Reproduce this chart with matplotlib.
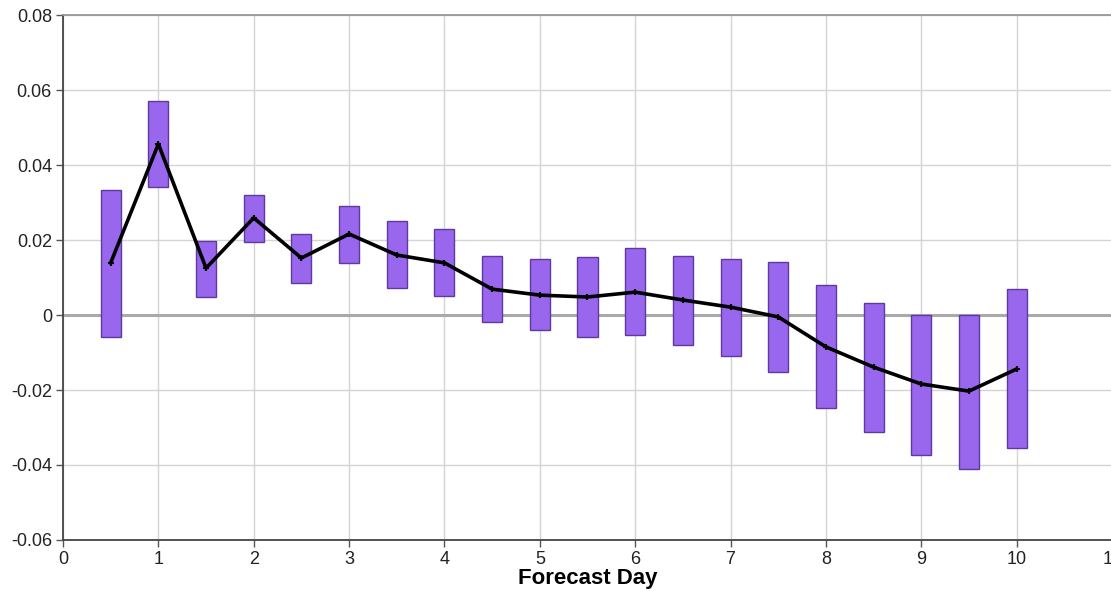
import numpy as np
import matplotlib
matplotlib.use("Agg")
import matplotlib.pyplot as plt

# forecast days (half-day steps)
days = [0.5, 1.0, 1.5, 2.0, 2.5, 3.0, 3.5, 4.0, 4.5, 5.0,
        5.5, 6.0, 6.5, 7.0, 7.5, 8.0, 8.5, 9.0, 9.5, 10.0]

# mean score difference
mean_vals = [0.0139, 0.0456, 0.0125, 0.0259, 0.0152, 0.0216, 0.0160, 0.0139, 0.0069, 0.0053,
             0.0048, 0.0061, 0.0040, 0.0021, -0.0005, -0.0085, -0.0139, -0.0184, -0.0203, -0.0144]

# confidence interval bounds
upper_vals = [0.0333, 0.0570, 0.0197, 0.0320, 0.0216, 0.0290, 0.0250, 0.0229, 0.0157, 0.0149,
              0.0155, 0.0179, 0.0157, 0.0149, 0.0141, 0.0080, 0.0032, 0.0000, 0.0000, 0.0069]
lower_vals = [-0.0059, 0.0341, 0.0048, 0.0195, 0.0085, 0.0139, 0.0072, 0.0051, -0.0019, -0.0040,
              -0.0059, -0.0053, -0.0080, -0.0109, -0.0152, -0.0248, -0.0312, -0.0373, -0.0410, -0.0355]

plt.rcParams["font.family"] = ["Liberation Sans", "DejaVu Sans"]

fig = plt.figure(figsize=(11.11, 5.91), dpi=100, facecolor="white")
ax = fig.add_axes([0.0567, 0.0863, 0.9442, 0.8883])

ax.set_xlim(0, 11)
ax.set_ylim(-0.06, 0.08)
ax.set_xticks(range(0, 12))
ax.set_yticks([-0.06, -0.04, -0.02, 0, 0.02, 0.04, 0.06, 0.08])
ax.set_yticklabels(["-0.06", "-0.04", "-0.02", "0", "0.02", "0.04", "0.06", "0.08"])

ax.grid(True, color="#d4d4d4", linewidth=1.0, zorder=0)
ax.set_axisbelow(True)
ax.axhline(0, color="#aaaaaa", linewidth=2.2, zorder=1)

heights = np.array(upper_vals) - np.array(lower_vals)
ax.bar(days, heights, bottom=lower_vals, width=0.21,
       color="#9966ee", edgecolor="#5e3a9e", linewidth=1.0, zorder=2)

ax.plot(days, mean_vals, color="black", linewidth=2.6, marker="+",
        markersize=5, markeredgewidth=1.5, zorder=3)

ax.spines["left"].set_color("#444444")
ax.spines["bottom"].set_color("#444444")
ax.spines["top"].set_color("#999999")
ax.spines["right"].set_visible(False)
for s in ["left", "bottom", "top"]:
    ax.spines[s].set_linewidth(1.3)

ax.tick_params(axis="both", direction="out", length=5, width=1,
               color="#555555", labelsize=13, labelcolor="#222222", pad=3)

ax.set_xlabel("Forecast Day", fontsize=16, fontweight="bold", labelpad=0)

fig.savefig("out.png", dpi=100, facecolor="white")
plt.close(fig)
